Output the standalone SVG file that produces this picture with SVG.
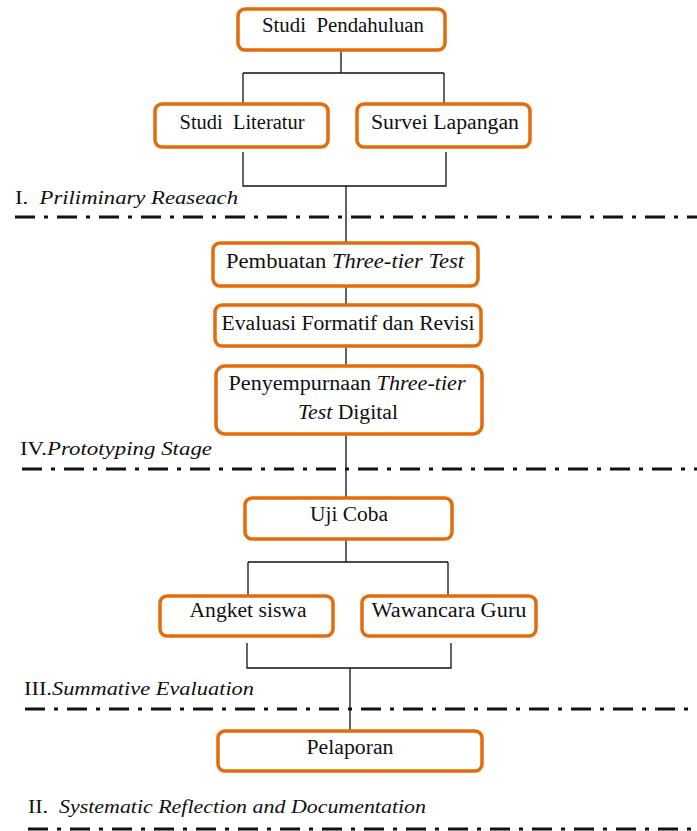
<svg xmlns="http://www.w3.org/2000/svg" width="697" height="831" viewBox="0 0 697 831">
<style>
.box{fill:#fff;stroke:#E36C0A;stroke-width:3.5}
.t{font-family:"Liberation Serif","Times New Roman",serif;font-size:20px;fill:#111;text-anchor:middle}
.ph{font-family:"Liberation Serif","Times New Roman",serif;font-size:19px;fill:#111}
.i{font-style:italic}
.c{fill:none;stroke:#111;stroke-width:1.3}
.dd{fill:none;stroke:#111;stroke-width:3;stroke-dasharray:20 9 4 9}
</style>
<rect width="697" height="831" fill="#fff"/>
<g id="connectors">
<path class="c" d="M341 50V73M243 73H444M243 73V103M444 73V103"/>
<path class="c" d="M243 152V186H446V152M346 186V243"/>
<path class="c" d="M346 286V305M346 346V366M346 434V498"/>
<path class="c" d="M346 539V562M248 562H448M248 562V596M448 562V596"/>
<path class="c" d="M247 643V668H451V643M350 668V731"/>
</g>
<g id="separators">
<path class="dd" d="M15 217H697"/>
<path class="dd" d="M22 469H697"/>
<path class="dd" d="M25 709H697"/>
<path class="dd" d="M28 829H697"/>
</g>
<g id="n1"><rect class="box" x="238" y="9" width="207" height="41" rx="7"/><text class="t" x="343" y="32" textLength="162" lengthAdjust="spacingAndGlyphs" xml:space="preserve">Studi  Pendahuluan</text></g>
<g id="n2"><rect class="box" x="155" y="104" width="173" height="43" rx="7"/><text class="t" x="242" y="129" textLength="125" lengthAdjust="spacingAndGlyphs" xml:space="preserve">Studi  Literatur</text></g>
<g id="n3"><rect class="box" x="357" y="104" width="173" height="43" rx="7"/><text class="t" x="445" y="129" textLength="148" lengthAdjust="spacingAndGlyphs">Survei Lapangan</text></g>
<g id="n4"><rect class="box" x="213" y="243" width="265" height="43" rx="7"/><text class="t" x="345" y="268" textLength="238" lengthAdjust="spacingAndGlyphs">Pembuatan <tspan class="i">Three-tier Test</tspan></text></g>
<g id="n5"><rect class="box" x="215" y="305" width="266" height="41" rx="7"/><text class="t" x="348" y="330" textLength="253" lengthAdjust="spacingAndGlyphs">Evaluasi Formatif dan Revisi</text></g>
<g id="n6"><rect class="box" x="216" y="366" width="266" height="68" rx="9"/><text class="t" x="347" y="390" textLength="237" lengthAdjust="spacingAndGlyphs">Penyempurnaan <tspan class="i">Three-tier</tspan></text><text class="t" x="348" y="419" textLength="100" lengthAdjust="spacingAndGlyphs"><tspan class="i">Test</tspan> Digital</text></g>
<g id="n7"><rect class="box" x="245" y="498" width="207" height="41" rx="7"/><text class="t" x="349" y="521" textLength="78" lengthAdjust="spacingAndGlyphs">Uji Coba</text></g>
<g id="n8"><rect class="box" x="160" y="596" width="173" height="40" rx="7"/><text class="t" x="248" y="617" textLength="117" lengthAdjust="spacingAndGlyphs">Angket siswa</text></g>
<g id="n9"><rect class="box" x="362" y="596" width="174" height="40" rx="7"/><text class="t" x="449" y="617" textLength="155" lengthAdjust="spacingAndGlyphs">Wawancara Guru</text></g>
<g id="n10"><rect class="box" x="218" y="731" width="264" height="40" rx="7"/><text class="t" x="350" y="754" textLength="87" lengthAdjust="spacingAndGlyphs">Pelaporan</text></g>
<g id="labels">
<text class="ph" x="15" y="204" textLength="223" lengthAdjust="spacingAndGlyphs" xml:space="preserve">I.  <tspan class="i">Priliminary Reaseach</tspan></text>
<text class="ph" x="20" y="455" textLength="192" lengthAdjust="spacingAndGlyphs">IV.<tspan class="i">Prototyping Stage</tspan></text>
<text class="ph" x="24" y="695" textLength="230" lengthAdjust="spacingAndGlyphs">III.<tspan class="i">Summative Evaluation</tspan></text>
<text class="ph" x="28" y="813" textLength="398" lengthAdjust="spacingAndGlyphs" xml:space="preserve">II.  <tspan class="i">Systematic Reflection and Documentation</tspan></text>
</g>
</svg>
